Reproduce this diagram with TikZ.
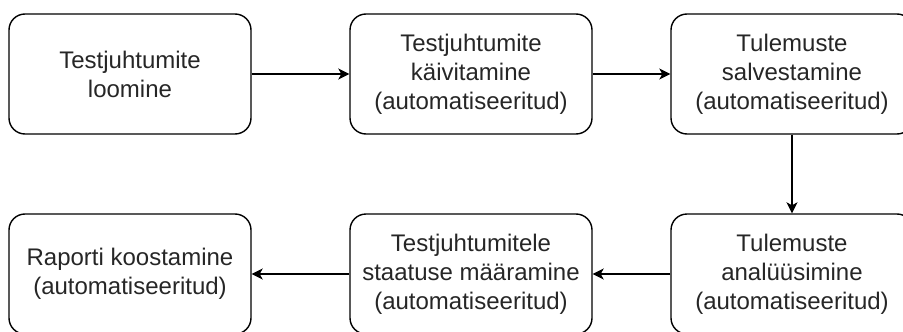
\documentclass[tikz,border=0pt]{standalone}
\usepackage{fontspec}
\setmainfont{Liberation Sans}
\usetikzlibrary{arrows.meta}
\begin{document}
\begin{tikzpicture}[x=1pt,y=-1pt,
  stepbox/.style={draw=black, line width=1.4pt, rounded corners=16pt,
    minimum width=242pt, minimum height=120pt, align=center, inner sep=0pt,
    text=black!85, font=\fontsize{24}{29}\selectfont},
  conn/.style={draw=black, line width=1.4pt, -{Stealth[length=11pt,width=11pt,inset=3pt]}}]
\useasboundingbox (0,0) rectangle (903,332);
\node[stepbox] (b1) at (130,74) {Testjuhtumite\\loomine};
\node[stepbox] (b2) at (471,74) {Testjuhtumite\\käivitamine\\(automatiseeritud)};
\node[stepbox] (b3) at (792,74) {Tulemuste\\salvestamine\\(automatiseeritud)};
\node[stepbox] (b6) at (792,274) {Tulemuste\\analüüsimine\\(automatiseeritud)};
\node[stepbox] (b5) at (471,274) {Testjuhtumitele\\staatuse määramine\\(automatiseeritud)};
\node[stepbox] (b4) at (130,274) {Raporti koostamine\\(automatiseeritud)};
\draw[conn] (b1) -- (b2);
\draw[conn] (b2) -- (b3);
\draw[conn] (b3) -- (b6);
\draw[conn] (b6) -- (b5);
\draw[conn] (b5) -- (b4);
\end{tikzpicture}
\end{document}
